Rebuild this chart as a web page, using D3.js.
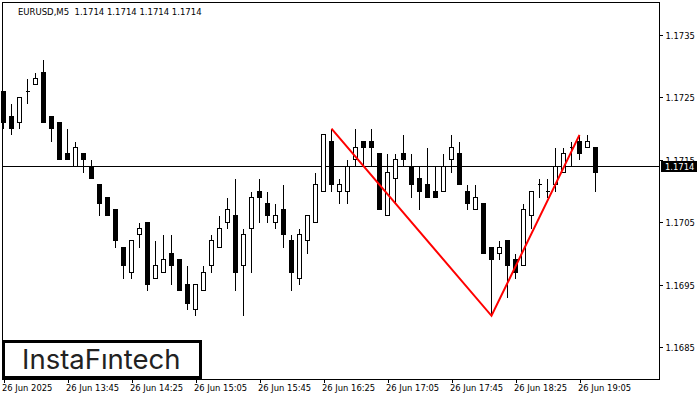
<!DOCTYPE html>
<html>
<head>
<meta charset="utf-8">
<script src="https://d3js.org/d3.v7.min.js"></script>
<style>
  body { margin: 0; background: #fff; }
  text { font-family: "DejaVu Sans", sans-serif; font-size: 8.4px; fill: #000; white-space: pre; }
</style>
</head>
<body>
<div id="chart"></div>
<script>

// candles, one per 5 minutes
var opens = [1.1726,1.1722,1.1721,1.1726,1.1727,1.1729,1.1722,1.1721,1.1716,1.1714,
  1.1716,1.1714,1.1711,1.1709,1.1707,1.1701,1.1697,1.1703,1.1705,1.1696,
  1.1697,1.1700,1.1699,1.1695,1.1691,1.1694,1.1698,1.1701,1.1705,1.1706,
  1.1698,1.1704,1.1710,1.1708,1.1705,1.1707,1.1702,1.1696,1.1702,1.1705,
  1.1710,1.1718,1.1710,1.1710,1.1715,1.1718,1.1718,1.1716,1.1706,1.1712,
  1.1716,1.1714,1.1712,1.1711,1.1710,1.1710,1.1715,1.1716,1.1710,1.1707,
  1.1708,1.1701,1.1700,1.1702,1.1699,1.1698,1.1706,1.1711,1.1710,1.1711,
  1.1713,1.1717,1.1718,1.1717,1.1717];
var highs = [1.1726,1.1724,1.1725,1.1728,1.1729,1.1731,1.1722,1.1721,1.1720,1.1718,
  1.1716,1.1715,1.1711,1.1709,1.1707,1.1701,1.1702,1.1705,1.1705,1.1702,
  1.1703,1.1703,1.1699,1.1698,1.1695,1.1698,1.1703,1.1706,1.1709,1.1712,
  1.1704,1.1710,1.1712,1.1710,1.1708,1.1711,1.1703,1.1704,1.1706,1.1713,
  1.1719,1.1720,1.1712,1.1715,1.1720,1.1718,1.1720,1.1716,1.1716,1.1716,
  1.1719,1.1716,1.1714,1.1717,1.1714,1.1716,1.1719,1.1718,1.1711,1.1711,
  1.1708,1.1701,1.1702,1.1702,1.1700,1.1708,1.1710,1.1712,1.1712,1.1717,
  1.1717,1.1718,1.1719,1.1719,1.1717];
var lows = [1.1720,1.1719,1.1720,1.1724,1.1727,1.1721,1.1718,1.1715,1.1715,1.1714,
  1.1713,1.1712,1.1706,1.1706,1.1701,1.1696,1.1696,1.1701,1.1694,1.1696,
  1.1697,1.1695,1.1694,1.1691,1.1690,1.1694,1.1697,1.1701,1.1704,1.1694,
  1.1690,1.1697,1.1705,1.1705,1.1704,1.1701,1.1694,1.1695,1.1700,1.1705,
  1.1710,1.1710,1.1708,1.1708,1.1714,1.1714,1.1714,1.1707,1.1706,1.1708,
  1.1714,1.1709,1.1707,1.1709,1.1709,1.1710,1.1713,1.1711,1.1707,1.1707,
  1.1700,1.1690,1.1699,1.1693,1.1696,1.1698,1.1704,1.1709,1.1709,1.1710,
  1.1713,1.1714,1.1715,1.1717,1.1710];
var closes = [1.1721,1.1720,1.1725,1.1726,1.1728,1.1721,1.1720,1.1715,1.1715,1.1717,
  1.1715,1.1712,1.1708,1.1706,1.1702,1.1698,1.1702,1.1704,1.1695,1.1698,
  1.1699,1.1698,1.1694,1.1692,1.1695,1.1697,1.1702,1.1704,1.1707,1.1697,
  1.1703,1.1709,1.1709,1.1706,1.1706,1.1703,1.1697,1.1703,1.1706,1.1711,
  1.1719,1.1711,1.1711,1.1714,1.1717,1.1717,1.1717,1.1707,1.1713,1.1715,
  1.1715,1.1711,1.1710,1.1709,1.1709,1.1714,1.1717,1.1711,1.1708,1.1709,
  1.1700,1.1699,1.1701,1.1698,1.1697,1.1707,1.1710,1.1711,1.1710,1.1714,
  1.1716,1.1717,1.1716,1.1718,1.1713];

// the red pattern, bar number and price
var patternBars = [41, 61, 72];
var patternPrices = [1.1720, 1.1690, 1.1719];

var priceTicks = [1.1735, 1.1725, 1.1715, 1.1705, 1.1695, 1.1685];
var timeBars = [0, 8, 16, 24, 32, 40, 48, 56, 64, 72];
var timeLabels = ["26 Jun 2025", "26 Jun 13:45", "26 Jun 14:25", "26 Jun 15:05", "26 Jun 15:45",
  "26 Jun 16:25", "26 Jun 17:05", "26 Jun 17:45", "26 Jun 18:25", "26 Jun 19:05"];

var lastPrice = 1.1714;
var title = "EURUSD,M5  1.1714 1.1714 1.1714 1.1714";

var width = 700;
var height = 400;
var plot = {left: 2.5, top: 2.5, right: 659.5, bottom: 379.5};

var xScale = d3.scaleLinear().domain([0, 74]).range([3.5, 595.5]);
var yScale = d3.scaleLinear().domain([1.1735, 1.1685]).range([35, 347]);

function yPix(v) { return Math.round(yScale(v) - 0.5) + 0.5; }

var svg = d3.select("#chart")
  .append("svg")
  .attr("width", width)
  .attr("height", height)
  .style("display", "block");

// axes
var yAxis = d3.axisRight(yScale)
  .tickValues(priceTicks)
  .tickSize(3)
  .tickPadding(3)
  .tickFormat(d3.format(".4f"));

var gy = svg.append("g")
  .attr("transform", "translate(" + plot.right + ",0)")
  .call(yAxis);
gy.select(".domain").remove();
gy.attr("font-family", null).attr("font-size", null);
gy.selectAll("text").attr("dy", "0.42em");
gy.selectAll("line").attr("stroke", "#000").attr("shape-rendering", "crispEdges");

var xAxis = d3.axisBottom(xScale)
  .tickValues(timeBars)
  .tickSize(3)
  .tickPadding(3)
  .tickFormat(function (d, i) { return timeLabels[i]; });

var gx = svg.append("g")
  .attr("transform", "translate(0," + plot.bottom + ")")
  .call(xAxis);
gx.select(".domain").remove();
gx.attr("font-family", null).attr("font-size", null);
gx.selectAll("text").attr("text-anchor", "start").attr("x", -2).attr("dy", "0.71em");
gx.selectAll("line").attr("stroke", "#000").attr("shape-rendering", "crispEdges");

// frame
svg.append("rect")
  .attr("x", plot.left)
  .attr("y", plot.top)
  .attr("width", plot.right - plot.left)
  .attr("height", plot.bottom - plot.top)
  .attr("fill", "none")
  .attr("stroke", "#000")
  .attr("shape-rendering", "crispEdges");

// last price line
svg.append("line")
  .attr("x1", plot.left)
  .attr("x2", plot.right)
  .attr("y1", yPix(lastPrice))
  .attr("y2", yPix(lastPrice))
  .attr("stroke", "#000")
  .attr("shape-rendering", "crispEdges");

// wicks and bodies
var candles = svg.append("g").selectAll("g")
  .data(opens)
  .enter()
  .append("g");

candles.append("line")
  .attr("x1", function (d, i) { return xScale(i); })
  .attr("x2", function (d, i) { return xScale(i); })
  .attr("y1", function (d, i) { return yPix(highs[i]); })
  .attr("y2", function (d, i) { return yPix(lows[i]); })
  .attr("stroke", "#000")
  .attr("shape-rendering", "crispEdges");

candles.append("path")
  .attr("d", function (d, i) {
    var x = xScale(i);
    return "M" + (x - 2) + "," + yPix(opens[i]) + "H" + (x + 2) + "V" + yPix(closes[i]) + "H" + (x - 2) + "Z";
  })
  .attr("fill", function (d, i) { return closes[i] < opens[i] ? "#000" : "#fff"; })
  .attr("stroke", "#000")
  .attr("shape-rendering", "crispEdges");

// red pattern
var patternLine = d3.line()
  .x(function (d) { return xScale(d); })
  .y(function (d, i) { return yScale(patternPrices[i]); });

svg.append("path")
  .attr("d", patternLine(patternBars))
  .attr("fill", "none")
  .attr("stroke", "#ff0000")
  .attr("stroke-width", 2);

// header
svg.append("text")
  .attr("x", 18)
  .attr("y", 14.5)
  .style("font-size", "8.5px")
  .text(title);

// current price tag
svg.append("rect")
  .attr("x", 661)
  .attr("y", 161)
  .attr("width", 36)
  .attr("height", 11)
  .attr("fill", "#000");

svg.append("text")
  .attr("x", 665)
  .attr("y", yPix(lastPrice) + 3.5)
  .style("fill", "#fff")
  .text(d3.format(".4f")(lastPrice));

// logo
svg.append("rect")
  .attr("x", 3.5)
  .attr("y", 341.5)
  .attr("width", 197)
  .attr("height", 36)
  .attr("fill", "#fff")
  .attr("stroke", "#000")
  .attr("stroke-width", 3);

svg.append("text")
  .attr("x", 22)
  .attr("y", 369)
  .style("font-family", "Inter, sans-serif")
  .style("font-size", "27.5px")
  .style("font-weight", "400")
  .style("fill", "#222")
  .text("InstaF\u0131ntech");

</script>
</body>
</html>
